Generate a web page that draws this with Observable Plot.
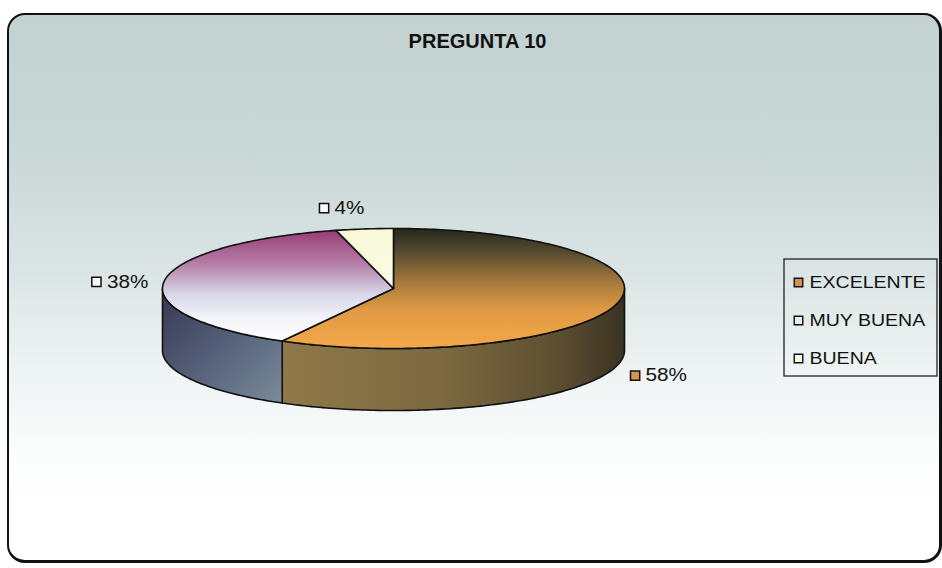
<!DOCTYPE html>
<html>
<head>
<meta charset="utf-8">
<script src="https://cdn.jsdelivr.net/npm/d3@7"></script>
<script src="https://cdn.jsdelivr.net/npm/@observablehq/plot@0.6"></script>
<style>
  body { margin: 0; background: #fff; }
  #wrap { position: relative; width: 942px; height: 568px; overflow: hidden; }
  #bg {
    position: absolute; left: 7px; top: 13px; width: 930px; height: 545px;
    border-style: solid; border-color: #111; border-width: 2px 3px 3px 2px;
    border-radius: 18px;
    background: linear-gradient(to bottom, #c3d1d1 0%, #cad7d7 25%, #d9e3e3 45%, #eef3f3 65%, #fbfcfc 80%, #ffffff 90%);
  }
  #chart { position: absolute; left: 0; top: 0; }
</style>
</head>
<body>
<div id="wrap"><div id="bg"></div><div id="chart"></div></div>
<script>
// ---- data ----
const chartTitle = "PREGUNTA 10";
const categories = ["EXCELENTE", "MUY BUENA", "BUENA"];
const percents = [58, 38, 4];
const valueLabels = ["58%", "38%", "4%"];

// ---- styles / layout ----
const W = 942, H = 568;
const cx = 393, cy = 288, rx = 231, ry = 60, depth = 62;
const font = "'Liberation Sans', Arial, sans-serif";
const topFills = ["url(#gOrangeTop)", "url(#gPinkTop)", "url(#gCreamTop)"];
const sideFills = ["url(#gOrangeSide)", "url(#gPinkSide)", "url(#gCreamSide)"];
const legendSwatch = ["#d4914b", "#ecebf5", "#fbfbe0"];
const labelSwatch = ["#d8954c", "#f8f8f8", "#fafafa"];

const arcs = d3.pie().sort(null).value(d => d)(percents);
const pt = (a, dy = 0) => ({x: cx + rx * Math.sin(a), y: cy - ry * Math.cos(a) + dy});
function arcPts(a0, a1, dy = 0) {
  const n = Math.max(2, Math.ceil(Math.abs(a1 - a0) / (Math.PI / 180)));
  return d3.range(n + 1).map(k => pt(a0 + (a1 - a0) * k / n, dy));
}

const marks = [];
// sides (front half only)
arcs.forEach((a, i) => {
  const s0 = Math.max(a.startAngle, Math.PI / 2), s1 = Math.min(a.endAngle, 3 * Math.PI / 2);
  if (s0 < s1) {
    const poly = [...arcPts(s0, s1, 0), ...arcPts(s1, s0, depth)];
    marks.push(Plot.line(poly, {x: "x", y: "y", curve: "linear-closed", fill: sideFills[i], stroke: "#111", strokeWidth: 1.6, strokeLinejoin: "round"}));
  }
});
// tops
arcs.forEach((a, i) => {
  const poly = [{x: cx, y: cy}, ...arcPts(a.startAngle, a.endAngle, 0)];
  marks.push(Plot.line(poly, {x: "x", y: "y", curve: "linear-closed", fill: topFills[i], stroke: "#111", strokeWidth: 1.6, strokeLinejoin: "round"}));
});

// data labels
const labelData = arcs.map((a, i) => {
  const m = (a.startAngle + a.endAngle) / 2;
  const s = Math.sin(m), c = Math.cos(m);
  const bx = cx + (rx + 45) * s - 20 * Math.abs(c);
  const by = cy - (ry + 25) * c + (c < 0 ? depth : 0) + 4;
  const tw = valueLabels[i].length * 11.5 + 17;
  const sx = bx - tw / 2 + 5;
  return {label: valueLabels[i], sx, tx: sx + 10.5, y: by, color: labelSwatch[i]};
});
marks.push(Plot.dot(labelData, {x: "sx", y: "y", symbol: "square", r: 5.2, fill: d => d.color, stroke: "#111", strokeWidth: 1.5}));
marks.push(Plot.text(labelData, {x: "tx", y: "y", text: "label", textAnchor: "start", fontSize: 18, fontFamily: font, fill: "#111"}));

// legend
const legBox = [{x1: 784, x2: 937, y1: 259, y2: 376}];
marks.push(Plot.rect(legBox, {x1: "x1", x2: "x2", y1: "y1", y2: "y2", fill: "none", stroke: "#222", strokeWidth: 1.3}));
const legRows = categories.map((c, i) => ({name: c, x: 798, tx: 809, y: 282 + i * 38, color: legendSwatch[i]}));
marks.push(Plot.dot(legRows, {x: "x", y: "y", symbol: "square", r: 4.8, fill: d => d.color, stroke: "#111", strokeWidth: 1.4}));
marks.push(Plot.text(legRows, {x: "tx", y: "y", text: "name", textAnchor: "start", fontSize: 17, fontFamily: font, fill: "#111"}));

// title
marks.push(Plot.text([{t: chartTitle, x: 477, y: 41}], {x: "x", y: "y", text: "t", fontSize: 20, fontWeight: "bold", fontFamily: font, fill: "#111", letterSpacing: -0.6}));

const svg = Plot.plot({
  width: W, height: H,
  margin: 0,
  x: {domain: [0, W], range: [0, W], axis: null},
  y: {domain: [0, H], range: [0, H], axis: null},
  style: {background: "transparent", overflow: "visible"},
  marks
});

// gradients
const NS = "http://www.w3.org/2000/svg";
const defs = document.createElementNS(NS, "defs");
function grad(id, x2, y2, stops) {
  const g = document.createElementNS(NS, "linearGradient");
  g.setAttribute("id", id);
  g.setAttribute("x1", 0); g.setAttribute("y1", 0);
  g.setAttribute("x2", x2); g.setAttribute("y2", y2);
  stops.forEach(([o, c]) => {
    const s = document.createElementNS(NS, "stop");
    s.setAttribute("offset", o); s.setAttribute("stop-color", c);
    g.appendChild(s);
  });
  defs.appendChild(g);
}
grad("gOrangeTop", 0, 1, [[0, "#24281c"], [0.2, "#574c30"], [0.45, "#a67a3c"], [0.68, "#e09a44"], [1, "#f5a84a"]]);
grad("gPinkTop", 0, 1, [[0, "#973d74"], [0.3, "#b47ea6"], [0.58, "#d8d8ea"], [0.8, "#f4f4fa"], [1, "#ffffff"]]);
grad("gCreamTop", 0, 1, [[0, "#f9f8d8"], [1, "#fdfde6"]]);
grad("gOrangeSide", 1, 0, [[0, "#8f7849"], [0.45, "#7d6a41"], [0.8, "#5d4f31"], [1, "#3a3322"]]);
grad("gPinkSide", 1, 1, [[0, "#38374f"], [0.5, "#55607a"], [1, "#7a8c9a"]]);
grad("gCreamSide", 1, 0, [[0, "#ddd9b0"], [1, "#b8b490"]]);
svg.insertBefore(defs, svg.firstChild);

// horizontal stretch for the condensed-looking label and legend texts
const stretchSet = new Set([...categories, ...valueLabels]);
svg.querySelectorAll("text").forEach(t => {
  const tr = t.getAttribute("transform");
  if (!stretchSet.has(t.textContent) || !tr) return;
  t.setAttribute("transform", tr + " scale(1.15,1)");
});

document.getElementById("chart").appendChild(svg);
</script>
</body>
</html>
